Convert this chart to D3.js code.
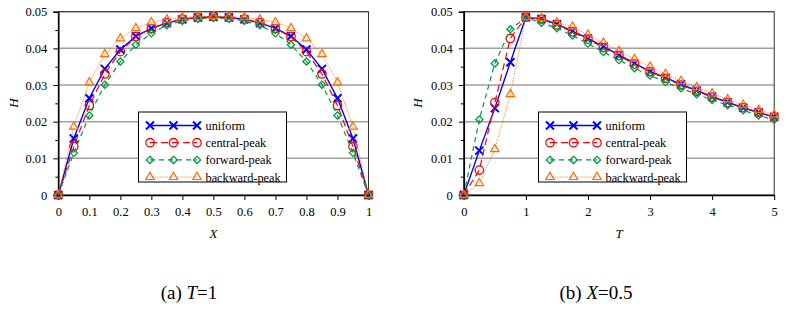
<!DOCTYPE html>
<html>
<head>
<meta charset="utf-8">
<script src="https://cdn.jsdelivr.net/npm/d3@7"></script>
<style>
  body { margin: 0; background: #fff; }
  svg text { font-family: "Times New Roman", "Liberation Serif", "DejaVu Serif", serif; fill: #000; }
</style>
</head>
<body>
<div class="canvas"></div>
<script>
// panel (a): H vs X at T=1
const xVals = [0, 0.05, 0.1, 0.15, 0.2, 0.25, 0.3, 0.35, 0.4, 0.45, 0.5, 0.55, 0.6, 0.65, 0.7, 0.75, 0.8, 0.85, 0.9, 0.95, 1];
const aUniform  = [0, 0.0154, 0.0264, 0.0344, 0.0397, 0.0433, 0.0455, 0.0469, 0.0479, 0.0484, 0.0486, 0.0484, 0.0479, 0.0469, 0.0455, 0.0433, 0.0397, 0.0344, 0.0264, 0.0154, 0];
const aCentral  = [0, 0.0132, 0.0244, 0.0330, 0.0391, 0.0432, 0.0454, 0.0470, 0.0480, 0.0484, 0.0487, 0.0484, 0.0480, 0.0470, 0.0454, 0.0432, 0.0391, 0.0330, 0.0244, 0.0132, 0];
const aForward  = [0, 0.0115, 0.0217, 0.0301, 0.0364, 0.0410, 0.0441, 0.0463, 0.0475, 0.0481, 0.0483, 0.0481, 0.0475, 0.0463, 0.0441, 0.0410, 0.0364, 0.0301, 0.0217, 0.0115, 0];
const aBackward = [0, 0.0186, 0.0307, 0.0384, 0.0427, 0.0455, 0.0471, 0.0479, 0.0484, 0.0486, 0.0488, 0.0486, 0.0484, 0.0479, 0.0471, 0.0455, 0.0427, 0.0384, 0.0307, 0.0186, 0];

// panel (b): H vs T at X=0.5
const tVals = [0, 0.25, 0.5, 0.75, 1, 1.25, 1.5, 1.75, 2, 2.25, 2.5, 2.75, 3, 3.25, 3.5, 3.75, 4, 4.25, 4.5, 4.75, 5];
const bUniform  = [0, 0.0121, 0.0237, 0.0362, 0.0485, 0.0480, 0.0466, 0.0447, 0.0427, 0.0405, 0.0382, 0.0359, 0.0337, 0.0320, 0.0302, 0.0285, 0.0268, 0.0253, 0.0238, 0.0225, 0.0213];
const bCentral  = [0, 0.0068, 0.0252, 0.0427, 0.0485, 0.0480, 0.0464, 0.0445, 0.0425, 0.0402, 0.0380, 0.0357, 0.0336, 0.0318, 0.0300, 0.0283, 0.0267, 0.0252, 0.0238, 0.0225, 0.0213];
const bForward  = [0, 0.0206, 0.0359, 0.0452, 0.0484, 0.0470, 0.0455, 0.0435, 0.0413, 0.0390, 0.0368, 0.0346, 0.0326, 0.0308, 0.0291, 0.0275, 0.0259, 0.0245, 0.0231, 0.0217, 0.0205];
const bBackward = [0, 0.0032, 0.0125, 0.0275, 0.0485, 0.0482, 0.0471, 0.0459, 0.0437, 0.0415, 0.0393, 0.0371, 0.0350, 0.0330, 0.0311, 0.0294, 0.0277, 0.0261, 0.0246, 0.0232, 0.0219];

const seriesNames = ['uniform', 'central-peak', 'forward-peak', 'backward-peak'];
const yTicks = [0, 0.01, 0.02, 0.03, 0.04, 0.05];
const aTicks = [0, 0.1, 0.2, 0.3, 0.4, 0.5, 0.6, 0.7, 0.8, 0.9, 1];
const bTicks = [0, 1, 2, 3, 4, 5];

const serif = '"Times New Roman", "Liberation Serif", "DejaVu Serif", serif';

const styles = [
    { color: '#0000ff', dash: null,  width: 1.4, marker: 'x' },
    { color: '#ff0000', dash: '7,4', width: 1.2, marker: 'circle' },
    { color: '#009a3e', dash: '5,4', width: 1.2, marker: 'diamond' },
    { color: '#ff6a00', dash: '1.2,1.2', width: 0.8, marker: 'triangle' }
];

const svg = d3.select('.canvas')
    .append('svg')
    .attr('width', 791)
    .attr('height', 315)
    .attr('font-family', serif);

const plotTop = 11.7, plotBottom = 195;

function drawMarker(g, type, color) {
    if (type === 'x') {
        g.append('path').attr('d', 'M-4,-4L4,4M-4,4L4,-4')
            .attr('stroke', color).attr('stroke-width', 2).attr('fill', 'none');
    } else if (type === 'circle') {
        g.append('circle').attr('r', 4.2)
            .attr('stroke', color).attr('stroke-width', 1.3).attr('fill', 'none');
    } else if (type === 'diamond') {
        g.append('path').attr('d', 'M0,-3.6L3.6,0L0,3.6L-3.6,0Z')
            .attr('stroke', color).attr('stroke-width', 1.3).attr('fill', 'none');
    } else {
        g.append('path').attr('d', d3.symbol(d3.symbolTriangle, 30)())
            .attr('stroke', color).attr('stroke-width', 1.2).attr('fill', 'none');
    }
}

function panel(opts) {
    const x = d3.scaleLinear().domain(opts.domain).range([opts.left, opts.right]);
    const y = d3.scaleLinear().domain([0, 0.05]).range([plotBottom, plotTop]);
    const g = svg.append('g');

    // gridlines
    g.append('g').selectAll('line')
        .data(yTicks.slice(1))
        .enter().append('line')
        .attr('x1', opts.left).attr('x2', opts.right)
        .attr('y1', d => y(d)).attr('y2', d => y(d))
        .attr('stroke', '#a0a0a0').attr('stroke-width', 1.5);

    // frame
    g.append('rect')
        .attr('x', opts.left).attr('y', plotTop)
        .attr('width', opts.right - opts.left).attr('height', plotBottom - plotTop)
        .attr('fill', 'none').attr('stroke', '#333').attr('stroke-width', 1);

    // y axis with minor ticks
    const yMinor = g.append('g').attr('transform', `translate(${opts.left},0)`)
        .call(d3.axisLeft(y).tickValues([0.005, 0.015, 0.025, 0.035, 0.045]).tickSize(3).tickFormat(''));
    yMinor.select('.domain').remove();
    const yAxis = g.append('g').attr('transform', `translate(${opts.left},0)`)
        .call(d3.axisLeft(y).tickValues(yTicks).tickSize(5).tickPadding(6).tickFormat(d => d === 0 ? '0' : d3.format('.2f')(d)));
    yAxis.attr('font-family', serif).attr('font-size', 12.5);
    yAxis.select('.domain').attr('stroke-width', 1.5);

    const xAxis = g.append('g').attr('transform', `translate(0,${plotBottom})`)
        .call(d3.axisBottom(x).tickValues(opts.ticks).tickSize(5).tickSizeOuter(0).tickPadding(7).tickFormat(d => String(d)));
    xAxis.attr('font-family', serif).attr('font-size', 12.5);
    xAxis.select('.domain').attr('stroke-width', 1.5);

    // axis titles
    g.append('text')
        .attr('transform', `translate(${opts.hx},103) rotate(-90)`)
        .attr('text-anchor', 'middle')
        .attr('font-size', 13).attr('font-style', 'italic')
        .text('H');
    g.append('text')
        .attr('x', (opts.left + opts.right) / 2).attr('y', 238)
        .attr('text-anchor', 'middle')
        .attr('font-size', 13).attr('font-style', 'italic')
        .text(opts.xTitle);

    // series
    const line = d3.line().x(d => x(d[0])).y(d => y(d[1]));
    opts.series.forEach((vals, i) => {
        const st = styles[i];
        const pts = opts.xs.map((v, j) => [v, vals[j]]);
        g.append('path').datum(pts)
            .attr('d', line)
            .attr('fill', 'none')
            .attr('stroke', st.color)
            .attr('stroke-width', st.width)
            .attr('stroke-dasharray', st.dash);
        pts.forEach(p => {
            const m = g.append('g').attr('transform', `translate(${x(p[0])},${y(p[1])})`);
            drawMarker(m, st.marker, st.color);
        });
    });

    // legend
    const lx = opts.legendX, ly = 112;
    const lg = g.append('g').attr('transform', `translate(${lx},${ly})`);
    lg.append('rect').attr('width', 148).attr('height', 70)
        .attr('fill', '#fff').attr('stroke', '#000').attr('stroke-width', 1);
    seriesNames.forEach((name, i) => {
        const st = styles[i];
        const ry = 13.5 + i * 17.2;
        lg.append('line')
            .attr('x1', 11.5).attr('x2', 58.5).attr('y1', ry).attr('y2', ry)
            .attr('stroke', st.color).attr('stroke-width', st.width)
            .attr('stroke-dasharray', st.dash);
        [11.5, 35, 58.5].forEach(mx => {
            drawMarker(lg.append('g').attr('transform', `translate(${mx},${ry})`), st.marker, st.color);
        });
        lg.append('text').attr('x', 67).attr('y', ry + 4.5)
            .attr('font-size', 12.3).text(name);
    });

    // caption
    const cap = svg.append('text')
        .attr('x', opts.capX).attr('y', 299)
        .attr('text-anchor', 'middle')
        .attr('font-size', 19);
    cap.append('tspan').text(opts.cap[0]);
    cap.append('tspan').attr('font-style', 'italic').text(opts.cap[1]);
    cap.append('tspan').text(opts.cap[2]);
}

panel({
    domain: [0, 1], left: 58.3, right: 368.5, ticks: aTicks,
    xs: xVals, series: [aUniform, aCentral, aForward, aBackward],
    xTitle: 'X', hx: 18, legendX: 138.5, capX: 189, cap: ['(a) ', 'T', '=1']
});

panel({
    domain: [0, 5], left: 463.8, right: 774.2, ticks: bTicks,
    xs: tVals, series: [bUniform, bCentral, bForward, bBackward],
    xTitle: 'T', hx: 422, legendX: 538.5, capX: 596, cap: ['(b) ', 'X', '=0.5']
});
</script>
</body>
</html>
